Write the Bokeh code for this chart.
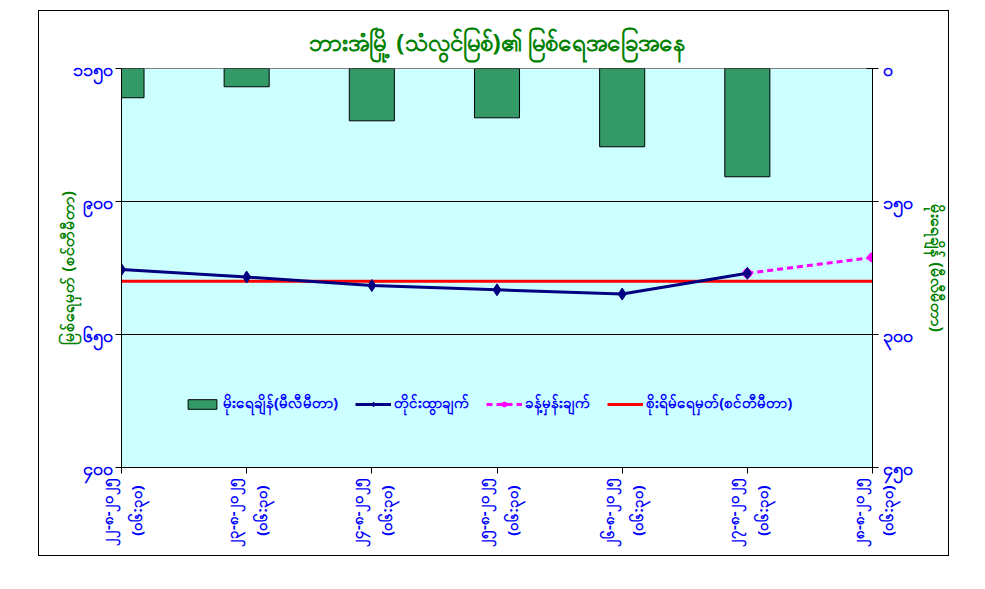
import math
from bokeh.plotting import figure
from bokeh.models import (Range1d, LinearAxis, FixedTicker, Legend, LegendItem)
from bokeh.embed import file_html
from bokeh.resources import INLINE

# ---------------- data ----------------
dates = ["၂၂-၈-၂၀၂၅", "၂၃-၈-၂၀၂၅", "၂၄-၈-၂၀၂၅", "၂၅-၈-၂၀၂၅",
         "၂၆-၈-၂၀၂၅", "၂၇-၈-၂၀၂၅", "၂၈-၈-၂၀၂၅"]
time_label = "(၀၆:၃၀)"
rain_mm = [33.0, 20.6, 59.0, 55.6, 88.3, 122.1]
water_level_cm = [772, 758, 742, 734, 726, 765]
forecast_cm = [765, 795]
danger_level_cm = [750, 750, 750, 750, 750, 750, 750]

left_ticks = [400, 650, 900, 1150]
left_tick_labels = ["၄၀၀", "၆၅၀", "၉၀၀", "၁၁၅၀"]
right_ticks = [0, 150, 300, 450]
right_tick_labels = ["၀", "၁၅၀", "၃၀၀", "၄၅၀"]

title_text = "ဘားအံမြို့ (သံလွင်မြစ်)၏ မြစ်ရေအခြေအနေ"
left_label = "မြစ်ရေမှတ် (စင်တီမီတာ)"
right_label = "မိုးရေချိန် (မီလီမီတာ)"
legend_labels = ["မိုးရေချိန်(မီလီမီတာ)", "တိုင်းထွာချက်", "ခန့်မှန်းချက်",
                 "စိုးရိမ်ရေမှတ်(စင်တီမီတာ)"]

FONT = "Noto Sans"
BLUE = "#0000FF"
GREEN = "#008000"

x_all = list(range(len(dates)))
x_obs = x_all[:len(water_level_cm)]
x_rain = x_all[:len(rain_mm)]
x_fc = x_all[len(water_level_cm) - 1:len(water_level_cm) - 1 + len(forecast_cm)]

p = figure(width=911, height=546, output_backend="svg", toolbar_location=None,
           x_range=Range1d(0, 6), y_range=Range1d(400, 1150),
           min_border_left=82, min_border_right=78, min_border_top=57,
           min_border_bottom=90)
p.margin = (10, 0, 0, 38)
p.styles = {"border": "1px solid black", "box-sizing": "border-box"}
p.background_fill_color = "#CCFFFF"
p.border_fill_color = "white"
p.outline_line_color = "#808080"

p.title.text = title_text
p.title.align = "center"
p.title.text_font = FONT
p.title.text_font_size = "24px"
p.title.text_color = GREEN
p.title.text_font_style = "bold"
p.title.standoff = 21

p.extra_y_ranges = {"rain": Range1d(450, 0)}

# bars (rain, secondary axis reversed)
bars = p.vbar(x=x_rain, top=[0] * len(rain_mm), bottom=rain_mm, width=0.36,
              fill_color="#339966", line_color="black", line_width=1,
              y_range_name="rain")
# danger level
danger = p.line(x_all, danger_level_cm, line_color="#FF0000", line_width=3)
# forecast
fc_line = p.line(x_fc, forecast_cm, line_color="#FF00FF", line_width=3,
                 line_dash="6 4")
fc_pts = p.scatter(x_fc, forecast_cm, marker="circle", size=9,
                   fill_color="#FF00FF", line_color="#FF00FF")
# observed
obs_line = p.line(x_obs, water_level_cm, line_color="#000080", line_width=3)
obs_pts = p.scatter(x_obs, water_level_cm, marker="diamond", size=12,
                    fill_color="#000080", line_color="#000080")

# grid
p.xgrid.grid_line_color = None
p.ygrid.ticker = FixedTicker(ticks=[650, 900])
p.ygrid.grid_line_color = "black"
p.ygrid.grid_line_width = 1

# x axis
xa = p.xaxis[0]
xa.ticker = FixedTicker(ticks=x_all)
xa.major_label_overrides = {i: d + "\n" + time_label + "\u00a0\u00a0"
                            for i, d in enumerate(dates)}
xa.major_label_orientation = math.pi / 2
xa.major_label_text_color = BLUE
xa.major_label_text_font = FONT
xa.major_label_text_font_style = "bold"
xa.major_label_text_font_size = "15px"
xa.major_label_text_line_height = 1.45
xa.major_label_standoff = 4
xa.minor_tick_line_color = None
xa.major_tick_in = 0
xa.major_tick_out = 6
xa.axis_line_color = "black"
xa.major_tick_line_color = "black"

# left axis
ya = p.yaxis[0]
ya.ticker = FixedTicker(ticks=left_ticks)
ya.major_label_overrides = {t: l for t, l in zip(left_ticks, left_tick_labels)}
ya.major_label_text_color = BLUE
ya.major_label_text_font = FONT
ya.major_label_text_font_style = "bold"
ya.major_label_text_font_size = "18px"
ya.major_label_standoff = 3
ya.minor_tick_line_color = None
ya.major_tick_in = 0
ya.major_tick_out = 6
ya.axis_label = left_label
ya.axis_label_text_color = GREEN
ya.axis_label_text_font = FONT
ya.axis_label_text_font_style = "bold"
ya.axis_label_text_font_size = "16px"
ya.axis_label_standoff = -9

# right axis
ra = LinearAxis(y_range_name="rain")
ra.ticker = FixedTicker(ticks=right_ticks)
ra.major_label_overrides = {t: l for t, l in zip(right_ticks, right_tick_labels)}
ra.major_label_text_color = BLUE
ra.major_label_text_font = FONT
ra.major_label_text_font_style = "bold"
ra.major_label_text_font_size = "18px"
ra.major_label_standoff = 4
ra.minor_tick_line_color = None
ra.major_tick_in = 6
ra.major_tick_out = 6
ra.axis_label = right_label
ra.axis_label_text_color = GREEN
ra.axis_label_text_font = FONT
ra.axis_label_text_font_style = "bold"
ra.axis_label_text_font_size = "16px"
ra.axis_label_standoff = 10
p.add_layout(ra, "right")

legend = Legend(items=[
    LegendItem(label=legend_labels[0], renderers=[bars]),
    LegendItem(label=legend_labels[1], renderers=[obs_line, obs_pts]),
    LegendItem(label=legend_labels[2], renderers=[fc_line, fc_pts]),
    LegendItem(label=legend_labels[3], renderers=[danger]),
], orientation="horizontal", location=(63, 52))
legend.background_fill_alpha = 0
legend.border_line_alpha = 0
legend.label_text_color = BLUE
legend.label_text_font = FONT
legend.label_text_font_style = "bold"
legend.label_text_font_size = "15px"
legend.glyph_width = 36
legend.glyph_height = 12
legend.spacing = 17
legend.padding = 0
legend.margin = 0
legend.label_standoff = 3
p.add_layout(legend, "center")

open("out.html", "w").write(file_html(p, INLINE))
